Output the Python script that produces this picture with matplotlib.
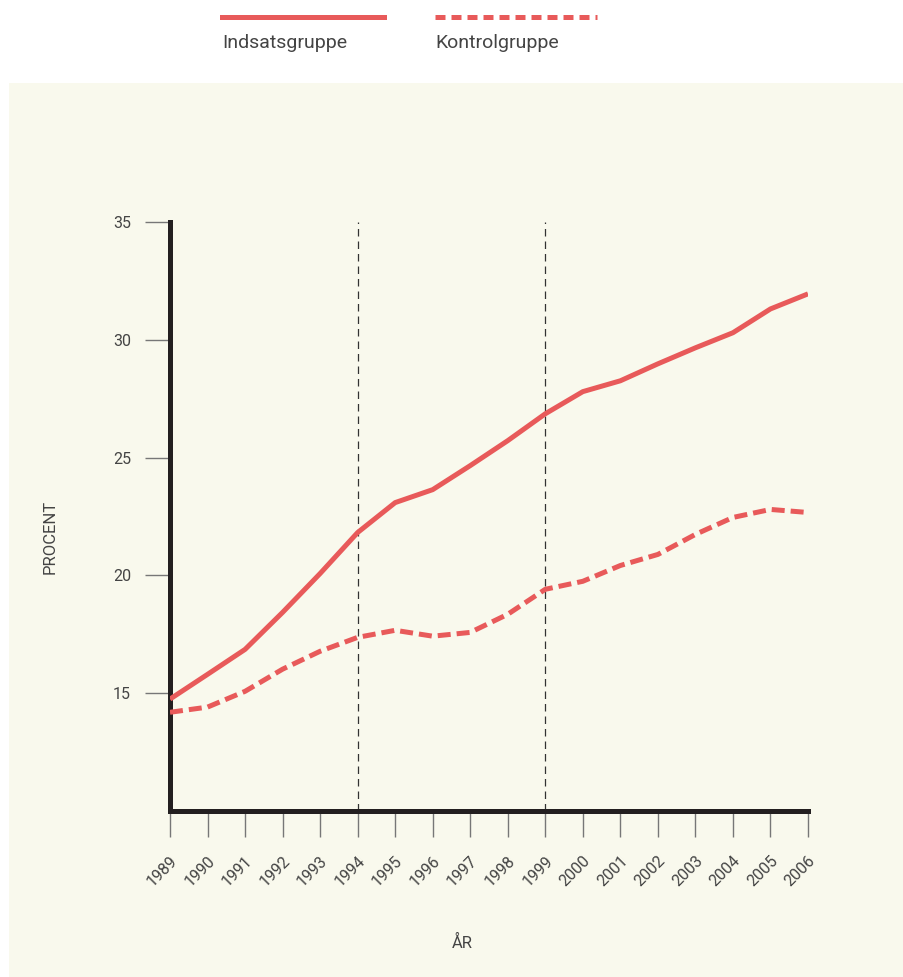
"""Line chart: Indsatsgruppe vs Kontrolgruppe, procent 1989-2006."""

import matplotlib
matplotlib.use("agg")

import matplotlib.pyplot as plt
from matplotlib.lines import Line2D
from matplotlib.patches import Rectangle
from matplotlib.transforms import ScaledTranslation

plt.rcParams["font.family"] = ["Roboto", "DejaVu Sans"]

years = list(range(1989, 2007))
indsats = [14.75, 15.8, 16.86, 18.43, 20.08, 21.82, 23.09, 23.64, 24.66, 25.72,
           26.86, 27.8, 28.26, 28.98, 29.66, 30.3, 31.31, 31.95]
kontrol = [14.19, 14.41, 15.08, 16.02, 16.78, 17.37, 17.67, 17.42, 17.58, 18.35,
           19.41, 19.75, 20.42, 20.89, 21.74, 22.46, 22.8, 22.67]
y_ticks = [15, 20, 25, 30, 35]
marker_years = [1994, 1999]

RED = "#e85a5a"
TXT = "#444444"
BG = "#f9f9ed"
W, H = 904, 977

fig = plt.figure(figsize=(W / 100, H / 100), dpi=100)
fig.patch.set_facecolor("white")

# beige panel behind the chart
fig.add_artist(Rectangle((9 / W, 0), 1 - 9 / W, 1 - 83 / H,
                         transform=fig.transFigure, facecolor=BG,
                         edgecolor="none", zorder=0))

ax = fig.add_axes([170 / W, 1 - 811 / H, (808 - 170) / W, (811 - 222) / H])
ax.set_facecolor("none")

ax.plot(years, indsats, color=RED, lw=3.6, solid_capstyle="butt", zorder=3)
ln, = ax.plot(years, kontrol, color=RED, lw=3.6, zorder=3)
ln.set_dashes((2.6, 1.2))

for yr in marker_years:
    ax.axvline(yr, color="#333333", lw=0.9, ls=(0, (6, 4)), zorder=2)

ax.set_xlim(years[0], years[-1])
ax.set_ylim(10, 35)
ax.set_xticks(years)
ax.set_xticklabels([str(y) for y in years], rotation=45, ha="right",
                   va="center", rotation_mode="anchor", fontsize=11.5, color=TXT)
ax.set_yticks(y_ticks)
ax.set_yticklabels([str(v) for v in y_ticks], fontsize=11.5, color=TXT)
ax.tick_params(axis="x", length=19, width=1, color="#777777", pad=15)
ax.tick_params(axis="y", length=18, width=1, color="#777777", pad=10)

# nudge the rotated year labels a bit to the right
shift = ScaledTranslation(5 / 100, 0, fig.dpi_scale_trans)
for lbl in ax.get_xticklabels():
    lbl.set_transform(lbl.get_transform() + shift)

for side in ["top", "right"]:
    ax.spines[side].set_visible(False)
for side in ["left", "bottom"]:
    ax.spines[side].set_linewidth(3.6)
    ax.spines[side].set_color("#231f20")
    ax.spines[side].set_capstyle("projecting")

fig.text(50 / W, 1 - 537 / H, "PROCENT", rotation=90, ha="center", va="center",
         fontsize=12, color=TXT)
fig.text(462 / W, 1 - 943 / H, "ÅR", ha="center", va="center",
         fontsize=12, color=TXT)

# legend on top
leg = [("Indsatsgruppe", 222, "-"), ("Kontrolgruppe", 435, "--")]
for label, x0, style in leg:
    l = Line2D([x0 / W, (x0 + 162) / W], [1 - 17 / H, 1 - 17 / H],
               transform=fig.transFigure, color=RED, lw=3.6)
    if style == "--":
        l.set_dashes((2.0, 1.2))
    fig.add_artist(l)
    fig.text(x0 / W, 1 - 43 / H, label, ha="left", va="center",
             fontsize=14, color=TXT)

fig.savefig("out.png", dpi=100, facecolor="white")
